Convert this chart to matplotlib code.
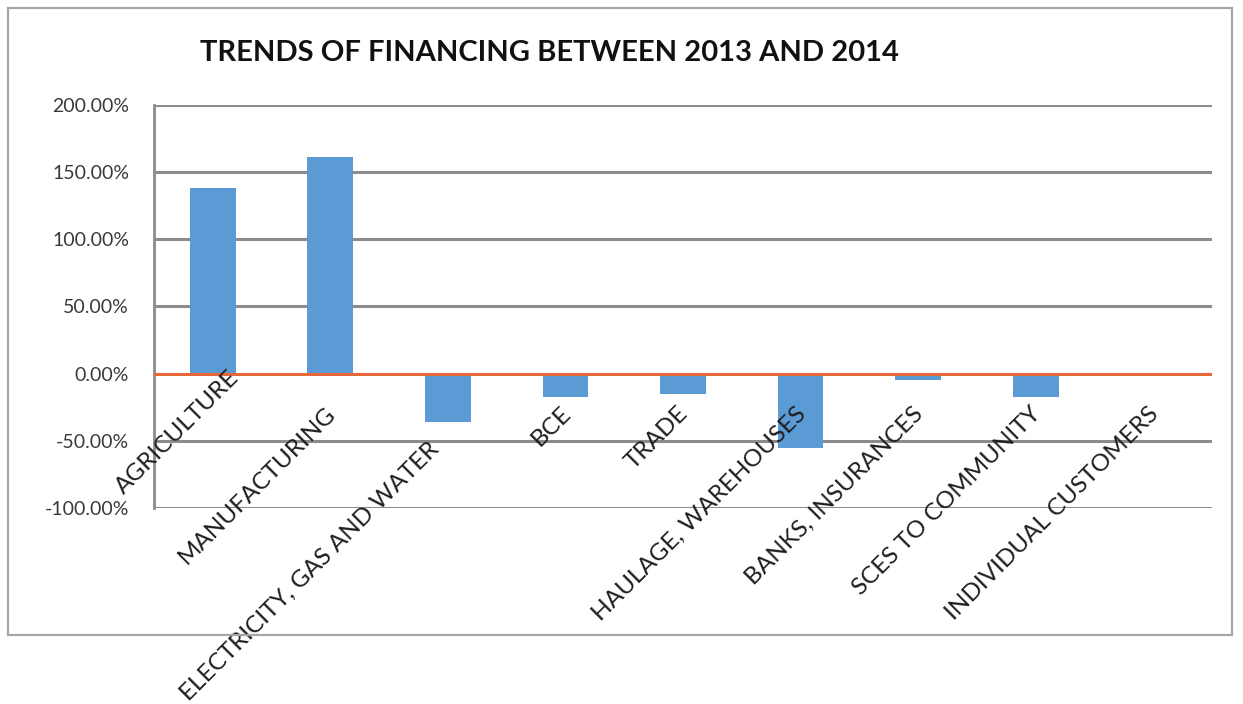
import matplotlib.pyplot as plt
from matplotlib.patches import Rectangle
from matplotlib.ticker import FuncFormatter

plt.rcParams['font.family'] = ['Lato', 'DejaVu Sans']

sectors = ["AGRICULTURE", "MANUFACTURING", "ELECTRICITY, GAS AND WATER", "BCE",
           "TRADE", "HAULAGE, WAREHOUSES", "BANKS, INSURANCES",
           "SCES TO COMMUNITY", "INDIVIDUAL CUSTOMERS"]
change_pct = [138.0, 161.0, -36.0, -17.5, -15.5, -55.0, -4.5, -17.5, 0.0]
y_ticks = [-100, -50, 0, 50, 100, 150, 200]

# label offsets from the zero line (points): excel shifts a couple of them
label_dx = [11, -4, -14, -4, -4, -4, -4, -4, -4]
label_dy = [5, -21, -47, -21, -21, -21, -21, -21, -21]

W, H = 1243, 704
fig = plt.figure(figsize=(W / 100, H / 100), dpi=100)
ax = fig.add_axes([154 / W, 1 - 508 / H, (1212 - 154) / W, (508 - 105) / H])

fig.patches.append(Rectangle((8 / W, 1 - 635 / H), (1232 - 8) / W, (635 - 8) / H,
                             transform=fig.transFigure, fill=False,
                             edgecolor='#a6a6a6', linewidth=1.6))

x = range(len(sectors))
ax.bar(x, change_pct, width=0.39, color='#5b9bd5', zorder=2)
ax.axhline(0, color='#e8673a', linewidth=2.2, zorder=3)

ax.set_xlim(-0.5, len(sectors) - 0.5)
ax.set_ylim(-100, 200)
ax.set_yticks(y_ticks)
ax.yaxis.set_major_formatter(FuncFormatter(lambda v, p: '%.2f%%' % v))
for t in y_ticks:
    if t != 0:
        ax.axhline(t, color='#8c8c8c', linewidth=2.2, zorder=1)

ax.set_xticks([])
ax.tick_params(axis='y', length=0, pad=18, labelsize=14, labelcolor='#3a3a3a')
for s in ['top', 'right', 'bottom']:
    ax.spines[s].set_visible(False)
ax.spines['left'].set_color('#8c8c8c')
ax.spines['left'].set_linewidth(2)

for i, name in enumerate(sectors):
    ax.annotate(name, xy=(i, 0), xytext=(label_dx[i], label_dy[i]),
                textcoords='offset points', rotation=45, rotation_mode='anchor',
                ha='right', va='top', fontsize=17.5, color='#1e1e1e',
                annotation_clip=False)

fig.text(200 / W, 1 - 53 / H, "TRENDS OF FINANCING BETWEEN 2013 AND 2014",
         ha='left', va='center', fontsize=21, fontweight='bold', color='#111111')

fig.savefig('out.png', dpi=100)
